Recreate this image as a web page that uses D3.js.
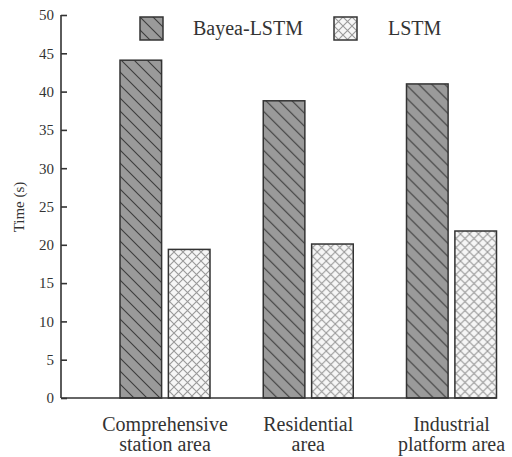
<!DOCTYPE html>
<html>
<head>
<meta charset="utf-8">
<script src="https://cdn.jsdelivr.net/npm/d3@7"></script>
<style>
  body { margin: 0; background: #fff; }
  svg text { font-family: "Times New Roman", "Liberation Serif", "DejaVu Serif", serif; fill: #333; }
</style>
</head>
<body>
<div id="chart-area"></div>
<script>
// data
var categories = [["Comprehensive", "station area"], ["Residential", "area"], ["Industrial", "platform area"]];
var seriesNames = ["Bayea-LSTM", "LSTM"];
var bayeaValues = [44.1, 38.8, 41.0];
var lstmValues = [19.4, 20.1, 21.8];
var yTicks = [0, 5, 10, 15, 20, 25, 30, 35, 40, 45, 50];

var width = 512, height = 457;
var axisX = 61, plotTop = 15, plotBottom = 398;
var serif = "\"Times New Roman\", \"Liberation Serif\", \"DejaVu Serif\", serif";

var svg = d3.select("#chart-area").append("svg")
  .attr("width", width)
  .attr("height", height);

// patterns
var defs = svg.append("defs");
var diag = defs.append("pattern")
  .attr("id", "diag")
  .attr("patternUnits", "userSpaceOnUse")
  .attr("width", 13).attr("height", 13);
diag.append("rect").attr("width", 13).attr("height", 13).attr("fill", "#9a9a9a");
diag.append("path")
  .attr("d", "M-3,-3 L16,16 M-3,10 L3,16 M10,-3 L16,3")
  .attr("stroke", "#3c3c3c").attr("stroke-width", 1.1);

var cross = defs.append("pattern")
  .attr("id", "cross")
  .attr("patternUnits", "userSpaceOnUse")
  .attr("width", 9).attr("height", 9);
cross.append("rect").attr("width", 9).attr("height", 9).attr("fill", "#f6f6f6");
cross.append("path")
  .attr("d", "M0,0 L9,9 M9,0 L0,9")
  .attr("stroke", "#999").attr("stroke-width", 1.1);

var fills = ["url(#diag)", "url(#cross)"];

// scales
var keys = categories.map(function(d) { return d.join(" "); });
var x = d3.scalePoint().domain(keys).range([165, 451.5]);
var xSub = d3.scaleBand().domain(seriesNames).range([-45, 45]).paddingInner(0.14);
var y = d3.scaleLinear().domain([0, 50]).range([plotBottom, plotTop]);

var rows = keys.map(function(k, i) {
  return { key: k, values: [bayeaValues[i], lstmValues[i]] };
});

// bars
var groups = svg.selectAll("g.group").data(rows).enter().append("g")
  .attr("class", "group")
  .attr("transform", function(d) { return "translate(" + x(d.key) + ",0)"; });

groups.selectAll("rect")
  .data(function(d) { return d.values.map(function(v, j) { return { name: seriesNames[j], value: v, j: j }; }); })
  .enter().append("rect")
  .attr("x", function(d) { return xSub(d.name); })
  .attr("y", function(d) { return y(d.value); })
  .attr("width", xSub.bandwidth())
  .attr("height", function(d) { return y(0) - y(d.value); })
  .attr("fill", function(d) { return fills[d.j]; })
  .attr("stroke", "#333")
  .attr("stroke-width", 1.5);

// y axis
var yAxis = svg.append("g")
  .attr("transform", "translate(" + axisX + ",0)")
  .call(d3.axisLeft(y).tickValues(yTicks).tickSize(-6).tickPadding(7));
yAxis.attr("font-family", null);
yAxis.select(".domain").attr("stroke", "#333").attr("stroke-width", 1.6)
  .attr("d", "M0," + plotTop + "V" + plotBottom);
yAxis.selectAll(".tick line").attr("stroke", "#333").attr("stroke-width", 1.6);
yAxis.selectAll(".tick text")
  .style("font-family", serif)
  .style("font-size", "15px")
  .attr("fill", "#333");

// baseline
var lastKey = keys[keys.length - 1];
svg.append("line")
  .attr("x1", axisX).attr("x2", x(lastKey) + xSub(seriesNames[1]) + xSub.bandwidth())
  .attr("y1", y(0)).attr("y2", y(0))
  .attr("stroke", "#333").attr("stroke-width", 1.6);

// y title
svg.append("text")
  .attr("transform", "translate(24,207) rotate(-90)")
  .style("text-anchor", "middle")
  .style("font-family", serif)
  .style("font-size", "15px")
  .text("Time (s)");

// category labels
var labels = svg.selectAll("text.cat").data(categories).enter().append("text")
  .attr("class", "cat")
  .style("text-anchor", "middle")
  .style("font-family", serif)
  .style("font-size", "20px");
labels.each(function(d, i) {
  var t = d3.select(this);
  d.forEach(function(line, k) {
    t.append("tspan")
      .attr("x", x(keys[i]))
      .attr("y", 431 + k * 20)
      .text(line);
  });
});

// legend
var legendX = [140, 334];
var legend = svg.selectAll("g.legend").data(seriesNames).enter().append("g")
  .attr("class", "legend")
  .attr("transform", function(d, i) { return "translate(" + legendX[i] + ",17)"; });
legend.append("rect")
  .attr("width", 23).attr("height", 23)
  .attr("fill", function(d, i) { return fills[i]; })
  .attr("stroke", "#333").attr("stroke-width", 1.5);
legend.append("text")
  .attr("x", function(d, i) { return i === 0 ? 53 : 54; })
  .attr("y", 18)
  .style("font-family", serif)
  .style("font-size", "20px")
  .text(function(d) { return d; });
</script>
</body>
</html>
